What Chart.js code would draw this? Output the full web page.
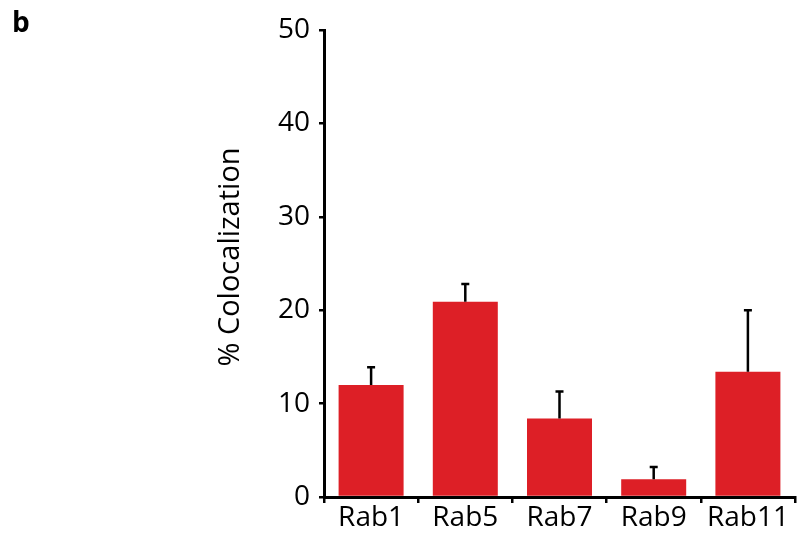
<!DOCTYPE html>
<html>
<head>
<meta charset="utf-8">
<script src="https://cdn.jsdelivr.net/npm/chart.js@4"></script>
<style>
html,body{margin:0;padding:0;background:#fff;}
#wrap{position:relative;width:799px;height:536px;}
#panel{position:absolute;left:12px;top:2px;font:bold 28px "Open Sans",sans-serif;color:#000;}
</style>
</head>
<body>
<div id="wrap">
<canvas id="c" width="799" height="536"></canvas>
<div id="panel">b</div>
</div>
<script>
const categories = ["Rab1", "Rab5", "Rab7", "Rab9", "Rab11"];
const values = [12.0, 20.9, 8.4, 1.9, 13.4];
const errors = [1.9, 1.9, 2.9, 1.3, 6.6];
const yTicks = [0, 10, 20, 30, 40, 50];
const yTitle = '% Colocalization';

const FONT = '"Open Sans", sans-serif';

const errorBars = {
  id: 'errorBars',
  afterDatasetsDraw(chart) {
    const ctx = chart.ctx;
    const meta = chart.getDatasetMeta(0);
    const y = chart.scales.y;
    ctx.save();
    ctx.strokeStyle = '#000';
    ctx.lineWidth = 2.5;
    meta.data.forEach((bar, i) => {
      const x = bar.x;
      const yTop = y.getPixelForValue(values[i] + errors[i]);
      const yBase = y.getPixelForValue(values[i]);
      ctx.beginPath();
      ctx.moveTo(x, yBase);
      ctx.lineTo(x, yTop);
      ctx.moveTo(x - 4, yTop);
      ctx.lineTo(x + 4, yTop);
      ctx.stroke();
    });
    ctx.restore();
  }
};

const yTitlePlugin = {
  id: 'yTitlePlugin',
  afterDraw(chart) {
    const ctx = chart.ctx;
    ctx.save();
    ctx.translate(231, 257);
    ctx.rotate(-Math.PI / 2);
    ctx.fillStyle = '#000';
    ctx.font = '29px ' + FONT;
    ctx.textAlign = 'center';
    ctx.textBaseline = 'middle';
    ctx.fillText(yTitle, 0, 0);
    ctx.restore();
  }
};

new Chart(document.getElementById('c'), {
  type: 'bar',
  data: {
    labels: categories,
    datasets: [{
      data: values,
      backgroundColor: 'rgb(221,31,38)',
      borderWidth: 0,
      categoryPercentage: 0.69,
      barPercentage: 1.0
    }]
  },
  options: {
    responsive: false,
    animation: false,
    devicePixelRatio: 1,
    layout: { padding: { top: 30, right: 4, left: 0, bottom: 0 } },
    plugins: { legend: { display: false }, tooltip: { enabled: false } },
    scales: {
      x: {
        offset: true,
        grid: { display: true, drawOnChartArea: false, drawTicks: true, tickLength: 6, color: '#000', lineWidth: 2.5, offset: true },
        border: { display: true, color: '#000', width: 3 },
        ticks: { color: '#000', font: { family: FONT, size: 28 }, padding: -2, maxRotation: 0 },
        afterFit(s) { s.height = 39; }
      },
      y: {
        min: 0, max: 50,
        afterBuildTicks(s) { s.ticks = yTicks.map(v => ({ value: v })); },
        grid: { display: true, drawOnChartArea: false, drawTicks: true, tickLength: 5, color: '#000', lineWidth: 2.5 },
        border: { display: true, color: '#000', width: 3 },
        ticks: { color: '#000', font: { family: FONT, size: 28 }, padding: 9 },
        title: { display: false },
        afterFit(s) { s.width = 324; }
      }
    }
  },
  plugins: [errorBars, yTitlePlugin]
});
</script>
</body>
</html>
